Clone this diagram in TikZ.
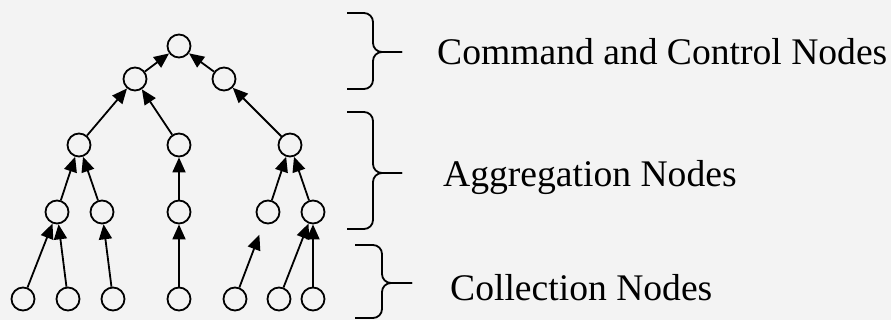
\documentclass[tikz,border=0pt]{standalone}
\usepackage{fontspec}
\setmainfont{Liberation Serif}
\usetikzlibrary{arrows.meta}
\definecolor{paper}{RGB}{243,243,243}
\tikzset{
  nd/.style={circle, draw, line width=1.8pt, minimum size=23pt, inner sep=0pt},
  up/.style={line width=1.8pt, -{Triangle[length=15pt,width=13pt]}},
  brk/.style={line width=1.8pt, rounded corners=9pt},
  lbl/.style={anchor=base west, inner sep=0pt, font=\fontsize{37.6}{40}\selectfont}
}
\begin{document}
\begin{tikzpicture}[x=1pt, y=-1pt]
  \fill [paper] (0,0) rectangle (891,320);
  \useasboundingbox (0,0) rectangle (891,320);
  \begin{scope}
    \node[nd] (top) at (179,46) {};

    \node[nd] (c1) at (135,79) {};
    \node[nd] (c2) at (224,79) {};

    \node[nd] (a1) at (79,145) {};
    \node[nd] (a2) at (179,145) {};
    \node[nd] (a3) at (290,145) {};

    \node[nd] (b1) at (57,212) {};
    \node[nd] (b2) at (102,212) {};
    \node[nd] (b3) at (179,212) {};
    \node[nd] (b4) at (268,212) {};
    \node[nd] (b5) at (313,212) {};

    \node[nd] (l1) at (23,299) {};
    \node[nd] (l2) at (68,299) {};
    \node[nd] (l3) at (113,299) {};
    \node[nd] (l4) at (179,299) {};
    \node[nd] (l5) at (235,299) {};
    \node[nd] (l6) at (279,299) {};
    \node[nd] (l7) at (313,299) {};

    \draw[up] (c1) -- (top);
    \draw[up] (c2) -- (top);
    \draw[up] (a1) -- (c1);
    \draw[up] (a2) -- (c1);
    \draw[up] (a3) -- (c2);
    \draw[up] (b1) -- (a1);
    \draw[up] (b2) -- (a1);
    \draw[up] (b3) -- (a2);
    \draw[up] (b4) -- (a3);
    \draw[up] (b5) -- (a3);
    \draw[up] (l1) -- (b1);
    \draw[up] (l2) -- (b1);
    \draw[up] (l3) -- (b2);
    \draw[up] (l4) -- (b3);
    \draw[up, shorten >=12pt] (l5) -- (b4);
    \draw[up] (l6) -- (b5);
    \draw[up] (l7) -- (b5);
  \end{scope}

  % braces
  \draw[brk] (347,13) -- (373,13) -- (373,52) -- (402,52);
  \draw[brk] (347,89) -- (373,89) -- (373,52) -- (402,52);
  \draw[brk] (347,112) -- (373,112) -- (373,173) -- (402,173);
  \draw[brk] (347,229) -- (373,229) -- (373,173) -- (402,173);
  \draw[brk] (355,245) -- (382,245) -- (382,283) -- (412,283);
  \draw[brk] (355,318) -- (382,318) -- (382,283) -- (412,283);

  \node[lbl] (cmdlbl) at (437,65) {Command and Control Nodes};
  \node[lbl] (agglbl) at (443,187) {Aggregation Nodes};
  \node[lbl] (collbl) at (450,300) {Collection Nodes};
\end{tikzpicture}
\end{document}
